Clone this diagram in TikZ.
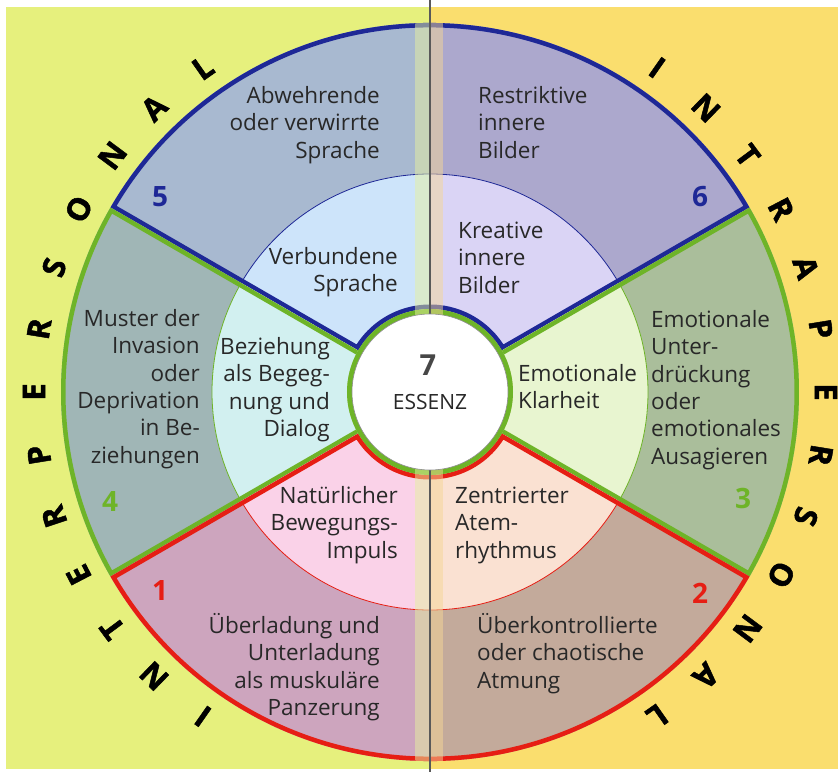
\documentclass[tikz,border=0pt]{standalone}
\usepackage{fontspec}
\setmainfont{Open Sans}
\newfontfamily\heavyfont{Open Sans}[BoldFeatures={FakeBold=1.6}]
\definecolor{bgl}{RGB}{230,240,125}
\definecolor{bgr}{RGB}{250,222,110}
\definecolor{lblue}{RGB}{30,40,150}
\definecolor{lgreen}{RGB}{110,180,40}
\definecolor{lred}{RGB}{230,30,20}
\definecolor{fiveo}{RGB}{168,185,208}
\definecolor{fivei}{RGB}{205,228,250}
\definecolor{sixo}{RGB}{172,168,205}
\definecolor{sixi}{RGB}{218,212,245}
\definecolor{fouro}{RGB}{160,182,182}
\definecolor{fouri}{RGB}{210,240,240}
\definecolor{threeo}{RGB}{170,190,155}
\definecolor{threei}{RGB}{232,245,208}
\definecolor{oneo}{RGB}{205,165,190}
\definecolor{onei}{RGB}{250,210,232}
\definecolor{twoo}{RGB}{195,170,155}
\definecolor{twoi}{RGB}{250,225,210}
\definecolor{bandl}{RGB}{230,240,160}
\definecolor{bandr}{RGB}{245,215,150}
\definecolor{txtc}{RGB}{40,40,40}
\newcommand\ts{\rule{0pt}{21pt}}
\tikzset{
  txt/.style={font=\fontsize{22.5}{27.4}\selectfont, inner sep=0pt, text=txtc},
  num/.style={font=\fontsize{28}{28}\selectfont\bfseries, inner sep=0pt},
  biglet/.style={font=\fontsize{31}{31}\selectfont\heavyfont\bfseries, inner sep=0pt, text=black},
}
\begin{document}
\begin{tikzpicture}[x=1pt,y=1pt]
\useasboundingbox (-430,-380) rectangle (408,392);
\fill[white] (-430,-380) rectangle (408,392);
\fill[bgl] (-424,-377) rectangle (0,385);
\fill[bgr] (0,-377) rectangle (408,385);

% blue region (5 and 6)
\begin{scope}
\clip (30:83pt) -- (30:369pt) arc[start angle=30,end angle=150,radius=369pt] -- (150:83pt) arc[start angle=150,end angle=30,radius=83pt] -- cycle;
\fill[fiveo] (0,0) -- (90:380pt) arc[start angle=90,end angle=150,radius=380pt] -- cycle;
\fill[fivei] (0,0) -- (90:218pt) arc[start angle=90,end angle=150,radius=218pt] -- cycle;
\fill[sixo] (0,0) -- (30:380pt) arc[start angle=30,end angle=90,radius=380pt] -- cycle;
\fill[sixi] (0,0) -- (30:218pt) arc[start angle=30,end angle=90,radius=218pt] -- cycle;
\draw[lblue, line width=0.8pt] (0,0) circle (218pt);
\draw[lblue, line width=9pt] (30:83pt) -- (30:369pt) arc[start angle=30,end angle=150,radius=369pt] -- (150:83pt) arc[start angle=150,end angle=30,radius=83pt] -- cycle;
\end{scope}

% green region left (4)
\begin{scope}
\clip (150:83pt) -- (150:369pt) arc[start angle=150,end angle=210,radius=369pt] -- (210:83pt) arc[start angle=210,end angle=150,radius=83pt] -- cycle;
\fill[fouro] (0,0) circle (380pt);
\fill[fouri] (0,0) circle (218pt);
\draw[lgreen, line width=0.8pt] (0,0) circle (218pt);
\draw[lgreen, line width=9pt] (150:60pt) -- (150:369pt) arc[start angle=150,end angle=210,radius=369pt] -- (210:60pt);
\end{scope}

% green region right (3)
\begin{scope}
\clip (-30:83pt) -- (-30:369pt) arc[start angle=-30,end angle=30,radius=369pt] -- (30:83pt) arc[start angle=30,end angle=-30,radius=83pt] -- cycle;
\fill[threeo] (0,0) circle (380pt);
\fill[threei] (0,0) circle (218pt);
\draw[lgreen, line width=0.8pt] (0,0) circle (218pt);
\draw[lgreen, line width=9pt] (-30:60pt) -- (-30:369pt) arc[start angle=-30,end angle=30,radius=369pt] -- (30:60pt);
\end{scope}

% red region (1 and 2)
\begin{scope}
\clip (210:83pt) -- (210:369pt) arc[start angle=210,end angle=330,radius=369pt] -- (330:83pt) arc[start angle=330,end angle=210,radius=83pt] -- cycle;
\fill[oneo] (0,0) -- (210:380pt) arc[start angle=210,end angle=270,radius=380pt] -- cycle;
\fill[onei] (0,0) -- (210:218pt) arc[start angle=210,end angle=270,radius=218pt] -- cycle;
\fill[twoo] (0,0) -- (270:380pt) arc[start angle=270,end angle=330,radius=380pt] -- cycle;
\fill[twoi] (0,0) -- (270:218pt) arc[start angle=270,end angle=330,radius=218pt] -- cycle;
\draw[lred, line width=0.8pt] (0,0) circle (218pt);
\draw[lred, line width=9pt] (210:83pt) -- (210:369pt) arc[start angle=210,end angle=330,radius=369pt] -- (330:83pt) arc[start angle=330,end angle=210,radius=83pt] -- cycle;
\end{scope}

% green ring round the centre
\fill[lgreen] (0,0) circle (83pt);

% spine band and line
\begin{scope}
\clip (0,0) circle (369pt);
\fill[bandl, opacity=0.5] (-15,-380) rectangle (0,392);
\fill[bandr, opacity=0.5] (0,-380) rectangle (13,392);
\end{scope}
\coordinate (spinetop) at (0,392);
\coordinate (spinebot) at (0,-380);
\draw[black!65, line width=1.4pt] (spinetop) -- (spinebot);

% centre
\node[circle, fill=white, draw=black!45, line width=0.6pt, minimum size=156pt, inner sep=0pt] (essenz) at (0,0) {};
\node[font=\fontsize{29}{29}\selectfont\bfseries, text=black!72, inner sep=0pt] (seven) at (-2,27) {7};
\node[font=\fontsize{21}{21}\selectfont, text=txtc, inner sep=0pt] (essenzt) at (0,-10) {ESSENZ};

% sector texts
\node[txt, align=right, anchor=north east] (t5o) at (-50,310) {\ts Abwehrende\\oder verwirrte\\Sprache};
\node[txt, align=right, anchor=north east] (t5i) at (-32,149) {\ts Verbundene\\Sprache};
\node[txt, align=left, anchor=north west] (t6o) at (48,310) {\ts Restriktive\\innere\\Bilder};
\node[txt, align=left, anchor=north west] (t6i) at (28,175) {\ts Kreative\\innere\\Bilder};
\node[txt, align=right, anchor=north east] (t4o) at (-230,87) {\ts Muster der\\Invasion\\oder\\Deprivation\\in Be-\\ziehungen};
\node[txt, align=right, anchor=north east] (t4i) at (-100,59) {\ts Beziehung\\als Begeg-\\nung und\\Dialog};
\node[txt, align=left, anchor=north west] (t3o) at (221,86) {\ts Emotionale\\Unter-\\drückung\\oder\\emotionales\\Ausagieren};
\node[txt, align=left, anchor=north west] (t3i) at (88,32) {\ts Emotionale\\Klarheit};
\node[txt, align=right, anchor=north east] (t1i) at (-32,-90) {\ts Natürlicher\\Bewegungs-\\Impuls};
\node[txt, align=right, anchor=north east] (t1o) at (-50,-220) {\ts Überladung und\\Unterladung\\als muskuläre\\Panzerung};
\node[txt, align=left, anchor=north west] (t2i) at (25,-90) {\ts Zentrierter\\Atem-\\rhythmus};
\node[txt, align=left, anchor=north west] (t2o) at (47,-220) {\ts Überkontrollierte\\oder chaotische\\Atmung};

% numbers
\node[num, text=lblue] (n5) at (-270,195) {5};
\node[num, text=lblue] (n6) at (270,195) {6};
\node[num, text=lgreen] (n4) at (-320,-110) {4};
\node[num, text=lgreen] (n3) at (313,-106) {3};
\node[num, text=lred] (n1) at (-270,-198) {1};
\node[num, text=lred] (n2) at (270,-201) {2};

% circular words
\foreach \ch [count=\i from 0] in {I,N,T,E,R,P,E,R,S,O,N,A,L} {
  \pgfmathsetmacro\ang{235-\i*110/12}
  \node[biglet, rotate=\ang-90] (il\i) at (\ang:396pt) {\ch};
}
\foreach \ch [count=\i from 0] in {I,N,T,R,A,P,E,R,S,O,N,A,L} {
  \pgfmathsetmacro\ang{55-\i*110/12}
  \node[biglet, rotate=\ang-90] (ir\i) at (\ang:396pt) {\ch};
}
\end{tikzpicture}
\end{document}
